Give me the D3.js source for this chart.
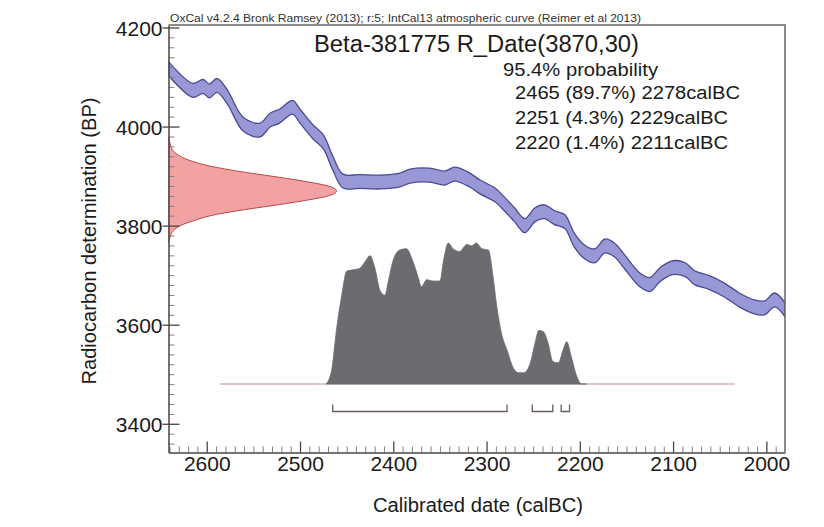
<!DOCTYPE html>
<html>
<head>
<meta charset="utf-8">
<script src="https://cdn.jsdelivr.net/npm/d3@7"></script>
<style>
  html, body { margin: 0; padding: 0; background: #ffffff; }
  svg { display: block; font-family: "Liberation Sans", Arial, sans-serif; }
</style>
</head>
<body>
<svg id="chart" width="824" height="527"></svg>
<script>
// ---------- data ----------
const xTickValues = [2600, 2500, 2400, 2300, 2200, 2100, 2000];
const yTickValues = [3400, 3600, 3800, 4000, 4200];

// IntCal13 curve: calendar year BC, radiocarbon age BP
const curveYears = [2641, 2615, 2604, 2597, 2589, 2578, 2561, 2543, 2532, 2522, 2508, 2500, 2486, 2475, 2465, 2454, 2436, 2414, 2393, 2382, 2361, 2345, 2334, 2318, 2307, 2291, 2280, 2270, 2259, 2248, 2238, 2227, 2216, 2206, 2195, 2184, 2173, 2163, 2152, 2136, 2125, 2114, 2101, 2087, 2077, 2061, 2045, 2029, 2013, 2002, 1991, 1980];
const curveBP = [4117, 4073, 4081, 4072, 4083, 4060, 4005, 3993, 4013, 4021, 4039, 4021, 3989, 3969, 3927, 3890, 3889, 3888, 3892, 3900, 3902, 3896, 3904, 3892, 3878, 3862, 3842, 3822, 3800, 3822, 3828, 3816, 3808, 3771, 3747, 3739, 3759, 3751, 3727, 3691, 3681, 3701, 3715, 3711, 3695, 3685, 3670, 3650, 3636, 3634, 3650, 3630];
const curveErr = [14];

// Radiocarbon date R_Date(3870,30): BP and relative density
const rdateBP = [3980, 3965, 3950, 3940, 3930, 3920, 3910, 3900, 3890, 3880, 3870, 3860, 3850, 3840, 3830, 3820, 3810, 3800, 3790, 3778, 3765];
const rdateDensity = [0, 0.01, 0.03, 0.07, 0.14, 0.25, 0.41, 0.61, 0.80, 0.95, 1.0, 0.95, 0.80, 0.61, 0.41, 0.25, 0.15, 0.07, 0.03, 0.01, 0];

// Calibrated distribution: year BC and relative probability
const calYears = [2472, 2466, 2461, 2455, 2450, 2443, 2436, 2430, 2425, 2420, 2414, 2409, 2405, 2400, 2393, 2386, 2379, 2373, 2370, 2364, 2357, 2350, 2346, 2341, 2336, 2329, 2321, 2316, 2311, 2305, 2298, 2293, 2289, 2284, 2278, 2271, 2266, 2260, 2253, 2248, 2244, 2239, 2234, 2229, 2223, 2218, 2214, 2209, 2203, 2198, 2193];
const calProb = [0, 0.10, 0.38, 0.64, 0.80, 0.81, 0.82, 0.87, 0.91, 0.83, 0.66, 0.63, 0.74, 0.88, 0.95, 0.96, 0.87, 0.75, 0.69, 0.74, 0.73, 0.73, 0.88, 1.00, 0.96, 0.94, 0.99, 0.98, 1.00, 0.96, 0.95, 0.76, 0.55, 0.36, 0.24, 0.11, 0.08, 0.08, 0.15, 0.29, 0.38, 0.37, 0.29, 0.16, 0.15, 0.24, 0.30, 0.19, 0.05, 0.0, 0];
const calBaselineRange = [2586, 2034];

// 95.4% ranges
const rangeFrom = [2465, 2251, 2220];
const rangeTo = [2278, 2229, 2211];
const rangePct = ["89.7", "4.3", "1.4"];

const headerText = "OxCal v4.2.4 Bronk Ramsey (2013); r:5; IntCal13 atmospheric curve (Reimer et al 2013)";
const titleText = "Beta-381775 R_Date(3870,30)";
const probText = "95.4% probability";
const xLabel = "Calibrated date (calBC)";
const yLabel = "Radiocarbon determination (BP)";

// ---------- layout ----------
const L = 168.5, R = 785, T = 25, B = 452.5;
const svg = d3.select("#chart");

const x = d3.scaleLinear().domain([2641, 1980]).range([L, R]);
const y = d3.scaleLinear().domain([3342, 4205]).range([B, T]);
const redW = d3.scaleLinear().domain([0, 1]).range([L, L + 168]);
const calH = d3.scaleLinear().domain([0, 1]).range([384, 243]);

svg.append("defs").append("clipPath").attr("id", "plotclip")
  .append("rect").attr("x", L).attr("y", T).attr("width", R - L).attr("height", B - T);

const plot = svg.append("g").attr("clip-path", "url(#plotclip)");

// calibration curve band
const curveData = curveYears.map((yr, i) => ({ yr, bp: curveBP[i] }));
const err = curveErr[0];
const band = d3.area()
  .x(d => x(d.yr))
  .y0(d => y(d.bp - err))
  .y1(d => y(d.bp + err))
  .curve(d3.curveCatmullRom.alpha(0.5));
plot.append("path").datum(curveData)
  .attr("d", band)
  .attr("fill", "#9898d6")
  .attr("stroke", "#4a4a94")
  .attr("stroke-width", 1.3);

// radiocarbon date distribution (red, on y axis)
const rData = rdateBP.map((bp, i) => ({ bp, d: rdateDensity[i] }));
const rArea = d3.area()
  .y(d => y(d.bp))
  .x0(L)
  .x1(d => redW(d.d))
  .curve(d3.curveMonotoneY);
plot.append("path").datum(rData)
  .attr("d", rArea)
  .attr("fill", "#f2a2a2")
  .attr("stroke", "#b84848")
  .attr("stroke-width", 1);

// baseline of calibrated distribution
plot.append("line")
  .attr("x1", x(calBaselineRange[0])).attr("x2", x(calBaselineRange[1]))
  .attr("y1", calH(0)).attr("y2", calH(0))
  .attr("stroke", "#b89090").attr("stroke-width", 1.2);

// calibrated distribution (grey)
const cData = calYears.map((yr, i) => ({ yr, p: calProb[i] }));
const cArea = d3.area()
  .x(d => x(d.yr))
  .y0(calH(0))
  .y1(d => calH(d.p))
  .curve(d3.curveMonotoneX);
plot.append("path").datum(cData)
  .attr("d", cArea)
  .attr("fill", "#6c6c70")
  .attr("stroke", "#6c6c70")
  .attr("stroke-width", 0.8);

// range brackets
const brY = 411.5;
rangeFrom.forEach((f, i) => {
  const t = rangeTo[i];
  plot.append("path")
    .attr("d", `M${x(f)},${brY - 7}V${brY}H${x(t)}V${brY - 7}`)
    .attr("fill", "none").attr("stroke", "#6a5c5c").attr("stroke-width", 1.3);
});

// ---------- axes ----------
const axisColor = "#4a4444";

// x minor ticks
const xMinor = d3.range(1990, 2641, 10).filter(v => v % 100 !== 0);
svg.append("g").attr("transform", `translate(0,${B})`)
  .call(d3.axisBottom(x).tickValues(xMinor).tickSizeInner(-6).tickSizeOuter(0).tickFormat(""))
  .call(g => g.select(".domain").remove())
  .call(g => g.selectAll(".tick line").attr("stroke", "#8a8080").attr("stroke-width", 1));

// x major ticks + labels
svg.append("g").attr("transform", `translate(0,${B})`)
  .call(d3.axisBottom(x).tickValues(xTickValues).tickSizeInner(-11).tickSizeOuter(0).tickFormat(d3.format("d")))
  .call(g => g.select(".domain").attr("stroke", axisColor).attr("stroke-width", 1.5))
  .call(g => g.selectAll(".tick line").attr("stroke", axisColor).attr("stroke-width", 1.3))
  .call(g => g.selectAll(".tick text")
      .attr("y", 18).attr("dy", 0)
      .attr("fill", "#1a1a1a")
      .style("font-size", "21px")
      .style("font-family", "'Liberation Sans', Arial, sans-serif"));

// y minor ticks
const yMinor = d3.range(3360, 4205, 20).filter(v => v % 200 !== 0);
svg.append("g").attr("transform", `translate(${L},0)`)
  .call(d3.axisLeft(y).tickValues(yMinor).tickSizeInner(-6).tickSizeOuter(0).tickFormat(""))
  .call(g => g.select(".domain").remove())
  .call(g => g.selectAll(".tick line").attr("stroke", "#8a8080").attr("stroke-width", 1));

// y major ticks + labels
svg.append("g").attr("transform", `translate(${L},0)`)
  .call(d3.axisLeft(y).tickValues(yTickValues).tickSizeOuter(0).tickFormat(d3.format("d")))
  .call(g => g.select(".domain").attr("stroke", axisColor).attr("stroke-width", 1.5))
  .call(g => g.selectAll(".tick line").attr("x1", -6).attr("x2", 11).attr("stroke", axisColor).attr("stroke-width", 1.3))
  .call(g => g.selectAll(".tick text")
      .attr("x", -6).attr("dy", "0.36em")
      .attr("fill", "#1a1a1a")
      .style("font-size", "21px")
      .style("font-family", "'Liberation Sans', Arial, sans-serif"));

// right & top frame
svg.append("path")
  .attr("d", `M${L},${T}H${R}V${B}`)
  .attr("fill", "none").attr("stroke", "#6a6464").attr("stroke-width", 1.5);

// ---------- texts ----------
svg.append("text").attr("x", L + 1.5).attr("y", 21.5)
  .attr("textLength", 471).attr("lengthAdjust", "spacingAndGlyphs")
  .style("font-size", "11px").attr("fill", "#333").text(headerText);

svg.append("text").attr("x", 314).attr("y", 52)
  .attr("textLength", 325).attr("lengthAdjust", "spacingAndGlyphs")
  .style("font-size", "23px").attr("fill", "#1a1a1a").text(titleText);

svg.append("text").attr("x", 503).attr("y", 76)
  .attr("textLength", 155).attr("lengthAdjust", "spacingAndGlyphs")
  .style("font-size", "18px").attr("fill", "#1a1a1a").text(probText);

const rangeWidths = [225, 213, 213];
rangeFrom.forEach((f, i) => {
  const s = `${f} (${rangePct[i]}%) ${rangeTo[i]}calBC`;
  svg.append("text").attr("x", 515).attr("y", 99 + i * 25)
    .attr("textLength", rangeWidths[i]).attr("lengthAdjust", "spacingAndGlyphs")
    .style("font-size", "18px").attr("fill", "#1a1a1a").text(s);
});

svg.append("text").attr("x", 478).attr("y", 512)
  .attr("text-anchor", "middle").attr("textLength", 210).attr("lengthAdjust", "spacingAndGlyphs")
  .style("font-size", "20px").attr("fill", "#1a1a1a").text(xLabel);

svg.append("text").attr("transform", "translate(96,241) rotate(-90)")
  .attr("text-anchor", "middle").attr("textLength", 287).attr("lengthAdjust", "spacingAndGlyphs")
  .style("font-size", "20px").attr("fill", "#1a1a1a").text(yLabel);
</script>
</body>
</html>
